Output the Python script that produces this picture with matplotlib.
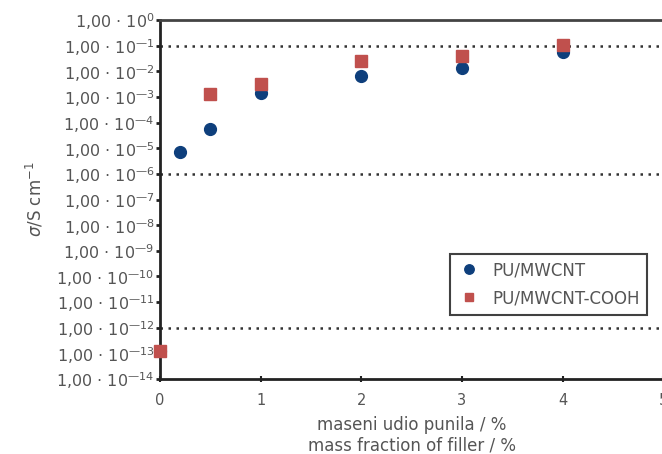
import math
import matplotlib.pyplot as plt
from matplotlib.ticker import FixedLocator, FuncFormatter

# mass fraction of filler, %
x_mwcnt = [0.0, 0.2, 0.5, 1.0, 2.0, 3.0, 4.0]
sigma_mwcnt = [1.2e-13, 7.0e-6, 5.4e-5, 1.45e-3, 6.5e-3, 1.3e-2, 5.5e-2]

x_cooh = [0.0, 0.5, 1.0, 2.0, 3.0, 4.0]
sigma_cooh = [1.2e-13, 1.25e-3, 3.1e-3, 2.5e-2, 3.9e-2, 1.05e-1]

# dotted reference levels
ref_levels = [1e-1, 1e-6, 1e-12]

x_ticks = [0, 1, 2, 3, 4, 5]
y_exponents = list(range(0, -15, -1))

text_col = '#555555'
blue = '#0e3f7c'
red = '#c0504d'

fig = plt.figure(figsize=(6.62, 4.54), dpi=100)
ax = fig.add_axes([0.2417, 0.1652, 0.7600, 0.7907])

for lvl in ref_levels:
    ax.axhline(lvl, color='#333333', lw=1.8, ls=(0, (1, 2.2)), zorder=1)

ax.plot(x_mwcnt, sigma_mwcnt, 'o', color=blue, ms=8.5, mec=blue, label='PU/MWCNT',
        zorder=3, clip_on=False)
ax.plot(x_cooh, sigma_cooh, 's', color=red, ms=8, mec=red, label='PU/MWCNT-COOH',
        zorder=4, clip_on=False)

ax.set_yscale('log')
ax.set_ylim(1e-14, 1e0)
ax.set_xlim(0, 5)
ax.yaxis.set_major_locator(FixedLocator([10.0 ** e for e in y_exponents]))
ax.yaxis.set_minor_locator(FixedLocator([]))


def fmt(v, pos):
    e = int(round(math.log10(v)))
    exp = ('\u2014' + str(-e)) if e < 0 else str(e)
    return r'1,00 $\cdot$ 10$^{\mathregular{%s}}$' % exp


ax.yaxis.set_major_formatter(FuncFormatter(fmt))
ax.set_xticks(x_ticks)

for s in ['left', 'bottom']:
    ax.spines[s].set_linewidth(2)
    ax.spines[s].set_color('#222222')
ax.spines['top'].set_linewidth(2)
ax.spines['top'].set_color('#444444')
ax.spines['right'].set_visible(False)

ax.tick_params(axis='y', direction='out', length=3, width=2, colors='#222222',
               labelcolor=text_col, labelsize=11.5, pad=1)
ax.tick_params(axis='x', direction='inout', length=4, width=1.5, colors='#222222',
               labelcolor=text_col, labelsize=10.5, pad=8)

ax.set_ylabel(r'$\sigma$/S cm$^{-1}$', color=text_col, fontsize=12, labelpad=8)
ax.set_xlabel('maseni udio punila / %\nmass fraction of filler / %', color=text_col,
              fontsize=12, labelpad=6, linespacing=1.15)

leg = ax.legend(loc='upper right', bbox_to_anchor=(0.985, 0.372), fontsize=12,
                frameon=True, fancybox=False, edgecolor='#111111', handletextpad=0.7,
                borderpad=0.45, labelspacing=0.6, handlelength=1.4, markerscale=0.8)
leg.get_frame().set_linewidth(1.5)
for t in leg.get_texts():
    t.set_color(text_col)

fig.savefig('out.png', dpi=100)
